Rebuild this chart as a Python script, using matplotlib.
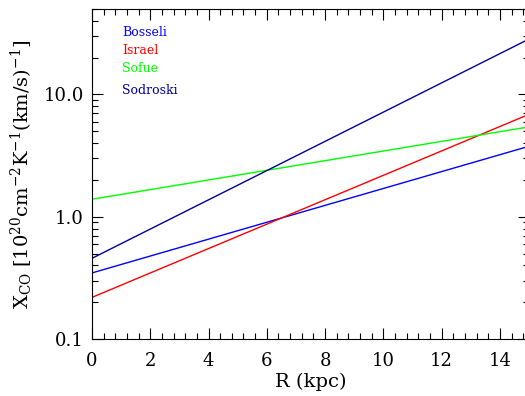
import matplotlib.pyplot as plt
from matplotlib.ticker import FixedLocator, FixedFormatter, MultipleLocator, LogLocator, NullFormatter

# Galactocentric radius (kpc) and X_CO at the ends of each fit
radius = [0.0, 15.0]
bosseli = [0.347, 3.77]
israel = [0.219, 6.88]
sofue = [1.39, 5.43]
sodroski = [0.457, 28.4]

names = ['Bosseli', 'Israel', 'Sofue', 'Sodroski']
colors = ['#0000ff', '#ff0000', '#00ff00', '#000096']
series = [bosseli, israel, sofue, sodroski]

yticks = [0.1, 1.0, 10.0]
ytick_labels = ['0.1', '1.0', '10.0']

plt.rcParams['font.family'] = 'DejaVu Serif'
plt.rcParams['mathtext.fontset'] = 'dejavuserif'

fig = plt.figure(figsize=(5.25, 3.96), dpi=100)
ax = fig.add_axes([92/525, 1 - 339/396, 437/525, 330/396])

for vals, c in zip(series, colors):
    ax.plot(radius, vals, color=c, lw=1.0)

ax.set_yscale('log')
ax.set_xlim(0, 15)
ax.set_ylim(0.1, 50)

ax.xaxis.set_major_locator(MultipleLocator(2))
ax.xaxis.set_minor_locator(MultipleLocator(0.4))
ax.yaxis.set_major_locator(FixedLocator(yticks))
ax.yaxis.set_major_formatter(FixedFormatter(ytick_labels))
ax.yaxis.set_minor_locator(LogLocator(base=10, subs=range(2, 10)))
ax.yaxis.set_minor_formatter(NullFormatter())

ax.tick_params(which='both', direction='in', top=True, right=True, labelsize=13, width=0.8)
ax.tick_params(which='major', length=8)
ax.tick_params(axis='x', which='major', pad=9)
ax.tick_params(axis='y', which='major', pad=6)
ax.tick_params(which='minor', length=4)
for s in ax.spines.values():
    s.set_linewidth(0.8)

ax.set_xlabel('R (kpc)', fontsize=14, labelpad=2)
ax.set_ylabel(r'X$_{\rm CO}$ [10$^{20}$cm$^{-2}$K$^{-1}$(km/s)$^{-1}$]', fontsize=14, labelpad=6)

label_y = [32, 50, 69, 90]
for name, c, py in zip(names, colors, label_y):
    ax.text(122/525, 1 - py/396, name, color=c, fontsize=9, transform=fig.transFigure,
            va='center', ha='left')

fig.savefig('out.png', dpi=100)
